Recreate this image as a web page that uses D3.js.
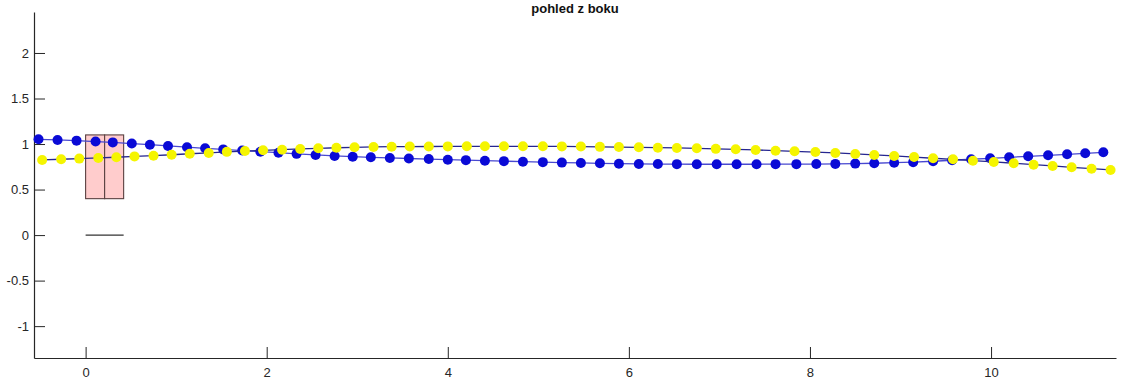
<!DOCTYPE html>
<html>
<head>
<meta charset="utf-8">
<script src="https://cdn.jsdelivr.net/npm/d3@7"></script>
<style>
  html, body { margin: 0; padding: 0; background: #fff; }
  svg { display: block; }
  text { font-family: "Liberation Sans", Arial, Helvetica, sans-serif; }
</style>
</head>
<body>
<svg id="chart" width="1126" height="381"></svg>
<script>
// Side view of two node chains ("pohled z boku")
const titleText = "pohled z boku";

// Blue chain: node positions (x, z)
const blueX = [-0.52, -0.31, -0.10, 0.11, 0.30, 0.51, 0.71, 0.91, 1.12, 1.32,
  1.52, 1.73, 1.93, 2.13, 2.33, 2.54, 2.75, 2.95, 3.15, 3.36,
  3.57, 3.79, 4.00, 4.20, 4.41, 4.62, 4.83, 5.05, 5.26, 5.47,
  5.68, 5.89, 6.11, 6.32, 6.53, 6.75, 6.97, 7.19, 7.41, 7.62,
  7.85, 8.07, 8.28, 8.50, 8.71, 8.93, 9.14, 9.36, 9.57, 9.78,
  9.99, 10.20, 10.41, 10.63, 10.84, 11.04, 11.24];
const blueZ = [1.052, 1.045, 1.037, 1.027, 1.018, 1.005, 0.993, 0.979, 0.965, 0.953,
  0.941, 0.928, 0.916, 0.905, 0.892, 0.880, 0.869, 0.861, 0.854, 0.847,
  0.841, 0.835, 0.828, 0.823, 0.817, 0.812, 0.806, 0.801, 0.796, 0.792,
  0.788, 0.784, 0.781, 0.780, 0.779, 0.778, 0.778, 0.778, 0.778, 0.779,
  0.779, 0.780, 0.782, 0.785, 0.789, 0.795, 0.801, 0.811, 0.822, 0.833,
  0.843, 0.854, 0.865, 0.876, 0.887, 0.898, 0.909];

// Yellow chain: node positions (x, z)
const yellowX = [-0.48, -0.27, -0.07, 0.14, 0.34, 0.54, 0.75, 0.95, 1.15, 1.36,
  1.56, 1.76, 1.96, 2.17, 2.37, 2.57, 2.77, 2.97, 3.18, 3.38,
  3.58, 3.79, 4.00, 4.21, 4.41, 4.62, 4.83, 5.05, 5.26, 5.47,
  5.68, 5.89, 6.11, 6.32, 6.53, 6.75, 6.96, 7.18, 7.40, 7.62,
  7.83, 8.06, 8.28, 8.50, 8.71, 8.93, 9.15, 9.36, 9.58, 9.80,
  10.03, 10.25, 10.47, 10.68, 10.89, 11.11, 11.32];
const yellowZ = [0.825, 0.833, 0.840, 0.847, 0.855, 0.864, 0.872, 0.882, 0.893, 0.902,
  0.914, 0.923, 0.931, 0.938, 0.946, 0.953, 0.959, 0.964, 0.968, 0.971,
  0.972, 0.973, 0.974, 0.975, 0.975, 0.975, 0.975, 0.975, 0.974, 0.972,
  0.969, 0.967, 0.964, 0.960, 0.957, 0.953, 0.947, 0.942, 0.935, 0.927,
  0.920, 0.912, 0.902, 0.891, 0.880, 0.869, 0.857, 0.844, 0.832, 0.817,
  0.803, 0.789, 0.773, 0.759, 0.744, 0.729, 0.715];

// Support block (two cells) and base line
const blockX = [0, 0.21, 0.42];
const blockZ = [0.40, 1.10];
const baseX = [0, 0.42];
const baseZ = 0;

// Axis ticks
const xTicks = [0, 2, 4, 6, 8, 10];
const yTicks = [-1, -0.5, 0, 0.5, 1, 1.5, 2];
const xDomain = [-0.57, 11.38];
const yDomain = [-1.35, 2.45];

const svg = d3.select("#chart");
const plot = { left: 34, right: 1116, top: 12, bottom: 358 };

const x = d3.scaleLinear().domain(xDomain).range([plot.left, plot.right]);
const y = d3.scaleLinear().domain(yDomain).range([plot.bottom, plot.top]);

const axisColor = "#262626";

// Axes (inward ticks, no box)
const gx = svg.append("g")
  .attr("transform", `translate(0,${plot.bottom})`)
  .call(d3.axisBottom(x).tickValues(xTicks).tickSizeInner(-11).tickSizeOuter(0)
    .tickPadding(10).tickFormat(d3.format("")));
const gy = svg.append("g")
  .attr("transform", `translate(${plot.left},0)`)
  .call(d3.axisLeft(y).tickValues(yTicks).tickSizeInner(-11).tickSizeOuter(0)
    .tickPadding(5).tickFormat(d => String(d)));

[gx, gy].forEach(g => {
  g.select(".domain").attr("stroke", axisColor).attr("stroke-width", 1.2);
  g.selectAll(".tick line").attr("stroke", axisColor).attr("stroke-width", 1);
  g.selectAll(".tick text").attr("fill", axisColor)
    .style("font-size", "13px")
    .style("font-family", "'Liberation Sans', Arial, Helvetica, sans-serif");
});

// Support block
const blk = svg.append("g");
for (let i = 0; i < blockX.length - 1; i++) {
  blk.append("rect")
    .attr("x", x(blockX[i]))
    .attr("y", y(blockZ[1]))
    .attr("width", x(blockX[i + 1]) - x(blockX[i]))
    .attr("height", y(blockZ[0]) - y(blockZ[1]))
    .attr("fill", "#ffcccc")
    .attr("stroke", "#5a4040")
    .attr("stroke-width", 1.1);
}
svg.append("line")
  .attr("x1", x(baseX[0])).attr("x2", x(baseX[1]))
  .attr("y1", y(baseZ)).attr("y2", y(baseZ))
  .attr("stroke", "#333333").attr("stroke-width", 1.2);

// Chains
function drawChain(xs, zs, lineColor, fill) {
  const pts = xs.map((v, i) => [v, zs[i]]);
  const g = svg.append("g");
  g.append("path")
    .datum(pts)
    .attr("d", d3.line().x(d => x(d[0])).y(d => y(d[1])))
    .attr("fill", "none")
    .attr("stroke", lineColor)
    .attr("stroke-width", 1.3);
  g.selectAll("circle")
    .data(pts)
    .join("circle")
    .attr("cx", d => x(d[0]))
    .attr("cy", d => y(d[1]))
    .attr("r", 5)
    .attr("fill", fill)
    .attr("stroke", "none");
}
drawChain(blueX, blueZ, "#4848d0", "#0a0ad6");
drawChain(yellowX, yellowZ, "#262690", "#f5f500");

// Title at the top edge
svg.append("text")
  .attr("x", (plot.left + plot.right) / 2)
  .attr("y", 13)
  .attr("text-anchor", "middle")
  .attr("fill", "#111")
  .style("font-size", "13px")
  .style("font-weight", "bold")
  .text(titleText);
</script>
</body>
</html>
